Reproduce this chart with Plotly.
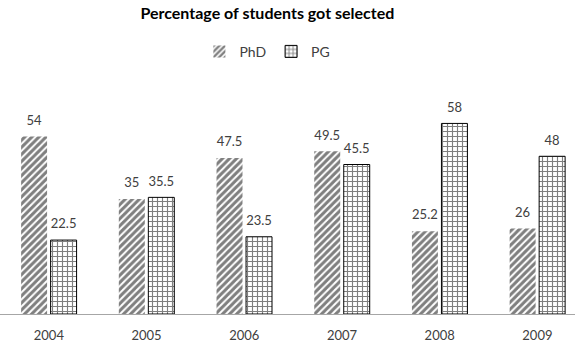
import plotly.graph_objects as go

years = ["2004", "2005", "2006", "2007", "2008", "2009"]
phd = [54, 35, 47.5, 49.5, 25.2, 26]
pg = [22.5, 35.5, 23.5, 45.5, 58, 48]
phd_labels = ["54", "35", "47.5", "49.5", "25.2", "26"]
pg_labels = ["22.5", "35.5", "23.5", "45.5", "58", "48"]

font_family = "Lato, Open Sans, sans-serif"

fig = go.Figure()
fig.add_trace(go.Bar(
    name="PhD", x=years, y=phd, offsetgroup="phd",
    marker=dict(color="white", line=dict(width=0),
                pattern=dict(shape="/", fgcolor="black", bgcolor="white",
                             size=5, solidity=0.6)),
))
fig.add_trace(go.Bar(
    name="PG", x=years, y=pg, offsetgroup="pg",
    marker=dict(color="white", line=dict(width=1, color="black"),
                pattern=dict(shape="+", fgcolor="black", bgcolor="white",
                             size=5, solidity=0.4)),
))
for vals, labs, grp in [(phd, phd_labels, "phd"), (pg, pg_labels, "pg")]:
    fig.add_trace(go.Scatter(
        x=years, y=vals, text=labs, mode="markers+text", offsetgroup=grp,
        textposition="top center", cliponaxis=False, showlegend=False,
        hoverinfo="skip",
        marker=dict(size=12, color="rgba(0,0,0,0)"),
        textfont=dict(size=13, color="#404040"),
    ))

fig.update_layout(
    width=575, height=344,
    margin=dict(l=0, r=0, t=84, b=30),
    paper_bgcolor="white", plot_bgcolor="white",
    barmode="group", bargap=0.396, bargroupgap=0.12,
    scattermode="group", scattergap=0.396,
    font=dict(family=font_family, size=12, color="#404040"),
    title=dict(text="<b>Percentage of students got selected</b>",
               x=0.465, xanchor="center", y=0.962, yanchor="middle",
               font=dict(family=font_family, size=16, color="black")),
    legend=dict(orientation="h", x=0.465, xanchor="center", y=1.14, yanchor="middle",
                font=dict(size=14, color="#404040"), itemwidth=30,
                tracegroupgap=0, bgcolor="rgba(0,0,0,0)"),
    showlegend=True,
)
fig.update_xaxes(type="category", range=[-0.5, 5.385],
                 showline=True, linecolor="#a6a6a6", linewidth=1,
                 ticks="outside", ticklen=9, tickcolor="rgba(0,0,0,0)",
                 tickfont=dict(size=13, color="#404040"), showgrid=False)
fig.update_yaxes(range=[0, 70], visible=False, showgrid=False, zeroline=False)

fig.write_html("out.html")
